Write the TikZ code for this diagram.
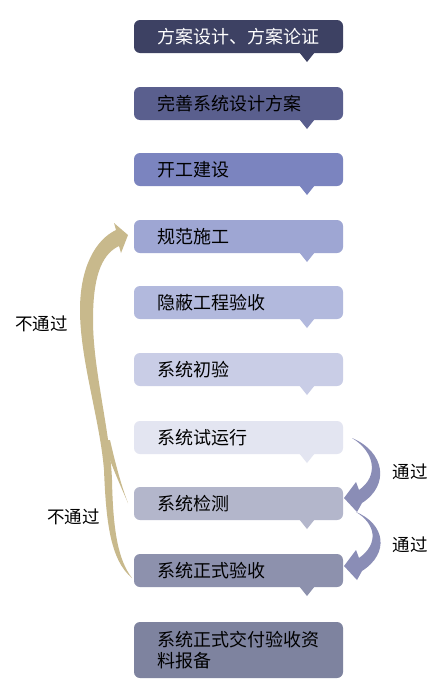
\documentclass[tikz,border=0pt]{standalone}
\usepackage{fontspec}
\setmainfont{Noto Sans CJK SC}
\begin{document}
\begin{tikzpicture}[x=1pt,y=-1pt,
  box/.style={rounded corners=6pt, minimum width=209pt, minimum height=33pt,
    inner xsep=23.5pt, inner ysep=0pt, text width=162pt, align=left,
    font=\fontsize{18}{21}\selectfont},
  lbl/.style={font=\fontsize{17.5}{21}\selectfont, inner sep=0pt},
  tanfill/.style={fill=tanc, draw=none},
  purfill/.style={fill=purc, draw=none}]
\definecolor{c1}{HTML}{3D4163}
\definecolor{c2}{HTML}{5A5F8E}
\definecolor{c3}{HTML}{7B84BF}
\definecolor{c4}{HTML}{9EA6D3}
\definecolor{c5}{HTML}{B2B9DD}
\definecolor{c6}{HTML}{C9CDE6}
\definecolor{c7}{HTML}{E3E5F1}
\definecolor{c8}{HTML}{B3B6CB}
\definecolor{c9}{HTML}{8D91AD}
\definecolor{c10}{HTML}{7E839F}
\definecolor{tanc}{HTML}{C8B98C}
\definecolor{purc}{HTML}{8A8DB6}
\useasboundingbox (0,0) rectangle (440,699);
\fill[white] (0,0) rectangle (440,699);
% tails
\foreach \y/\c in {53/c1,120/c2,186/c3,253/c4,319/c5,386/c6,454/c7,520/c8,587/c9}
  \fill[\c] (299,\y-1) -- (315,\y-1) -- (307,\y+9) -- cycle;
% boxes
\node[box, fill=c1, text=white] (b1) at (238.5,36.5) {方案设计、方案论证};
\node[box, fill=c2] (b2) at (238.5,103.5) {完善系统设计方案};
\node[box, fill=c3] (b3) at (238.5,169.5) {开工建设};
\node[box, fill=c4] (b4) at (238.5,236.5) {规范施工};
\node[box, fill=c5] (b5) at (238.5,302.5) {隐蔽工程验收};
\node[box, fill=c6] (b6) at (238.5,369.5) {系统初验};
\node[box, fill=c7] (b7) at (238.5,437.5) {系统试运行};
\node[box, fill=c8] (b8) at (238.5,503.5) {系统检测};
\node[box, fill=c9] (b9) at (238.5,570.5) {系统正式验收};
\node[box, fill=c10, minimum height=56pt] (b10) at (238.5,650) {系统正式交付验收资\\料报备};
% tan return arrow (main band)
\fill[tanfill] (132,578) .. controls (110,560) and (106,520) .. (104,470)
  .. controls (100,420) and (80,360) .. (80,310)
  .. controls (80,268) and (95,240) .. (116,230)
  -- (114,223) -- (128,235) -- (121,253) -- (119,246)
  .. controls (100,255) and (93,280) .. (93,320)
  .. controls (93,370) and (110,430) .. (112,480)
  .. controls (113,530) and (118,560) .. (132,578) -- cycle;
% tan branch from b8
\fill[tanfill] (128,503) .. controls (118,480) and (110,462) .. (103,440)
  -- (110,440) .. controls (115,462) and (121,485) .. (128,503) -- cycle;
% purple pass arrows
\fill[purfill] (352,438) .. controls (385,452) and (390,485) .. (362,503)
  -- (357,512) -- (344,498) -- (356,482) -- (359,490)
  .. controls (379,476) and (375,452) .. (352,438) -- cycle;
\begin{scope}[yshift=-68pt]
\fill[purfill] (356,444) .. controls (385,456) and (390,485) .. (362,503)
  -- (357,512) -- (344,498) -- (356,482) -- (359,490)
  .. controls (379,476) and (376,456) .. (356,444) -- cycle;
\end{scope}
% labels
\node[lbl] (l1) at (41.5,324) {不通过};
\node[lbl] (l2) at (73.5,517) {不通过};
\node[lbl] (l3) at (410,472) {通过};
\node[lbl] (l4) at (410,545) {通过};
\end{tikzpicture}
\end{document}
